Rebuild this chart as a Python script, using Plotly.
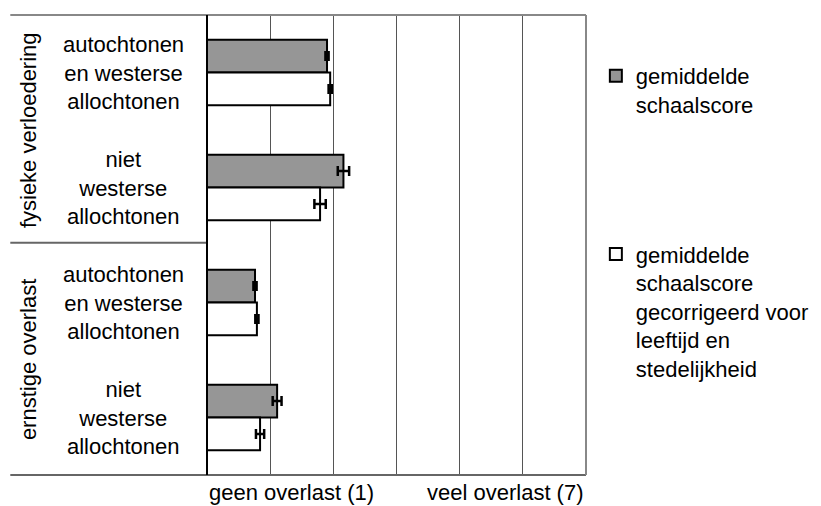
import plotly.graph_objects as go

# data (scale 1 = geen overlast, 7 = veel overlast)
groups = ["autochtonen<br>en westerse<br>allochtonen", "niet<br>westerse<br>allochtonen",
          "autochtonen<br>en westerse<br>allochtonen", "niet<br>westerse<br>allochtonen"]
themes = ["fysieke verloedering", "ernstige overlast"]
score = [2.90, 3.16, 1.76, 2.11]
score_err = [0.025, 0.09, 0.025, 0.07]
score_corr = [2.95, 2.79, 1.79, 1.84]
score_corr_err = [0.025, 0.09, 0.025, 0.065]
legend_names = ["gemiddelde<br>schaalscore",
                "gemiddelde<br>schaalscore<br>gecorrigeerd voor<br>leeftijd en<br>stedelijkheid"]

ypos = list(range(len(groups)))
FONT = "Liberation Sans, Arial, sans-serif"
FS = 22

fig = go.Figure()
fig.add_trace(go.Bar(
    y=ypos, x=score, orientation="h", name=legend_names[0], legendgroup="a",
    marker=dict(color="#969696", line=dict(color="black", width=2)),
    error_x=dict(type="data", array=score_err, color="black", thickness=2.5, width=5),
))
fig.add_trace(go.Bar(
    y=ypos, x=score_corr, orientation="h", name=legend_names[1], legendgroup="b",
    marker=dict(color="white", line=dict(color="black", width=2)),
    error_x=dict(type="data", array=score_corr_err, color="black", thickness=2.5, width=5),
))

# category labels, centred like the original
for y, g in zip(ypos, groups):
    fig.add_annotation(x=-0.219, xref="paper", y=y, yref="y", text=g, showarrow=False,
                       xanchor="center", yanchor="middle", align="center",
                       font=dict(size=FS, color="black"))
for i, t in enumerate(themes):
    fig.add_annotation(x=-0.472, xref="paper", y=2 * i + 0.5, yref="y", text=t,
                       showarrow=False, textangle=-90, xanchor="center", yanchor="middle",
                       font=dict(size=FS, color="black"))

# bottom axis end labels
fig.add_annotation(x=1, xref="x", y=0, yref="paper", yshift=-3, text="geen overlast (1)",
                   showarrow=False, xanchor="left", yanchor="top", font=dict(size=FS, color="black"))
fig.add_annotation(x=7, xref="x", y=0, yref="paper", yshift=-3, text="veel overlast (7)",
                   showarrow=False, xanchor="right", yanchor="top", font=dict(size=FS, color="black"))

# frame and separators
left = -0.519
fig.add_shape(type="line", xref="paper", yref="paper", x0=left, x1=1, y0=1, y1=1,
              line=dict(color="#888", width=2))
fig.add_shape(type="line", xref="paper", yref="paper", x0=left, x1=1, y0=0, y1=0,
              line=dict(color="#666", width=2))
fig.add_shape(type="line", xref="paper", yref="paper", x0=1, x1=1, y0=0, y1=1,
              line=dict(color="#888", width=2))
fig.add_shape(type="line", xref="paper", yref="paper", x0=left, x1=0, y0=0.505, y1=0.505,
              line=dict(color="#666", width=2))
fig.add_shape(type="line", xref="paper", yref="paper", x0=0, x1=0, y0=0, y1=1,
              line=dict(color="black", width=2))

# page body has an 8px margin, so the figure is 8px smaller each way
fig.update_layout(
    width=813, height=498,
    margin=dict(l=199, r=235, t=7, b=31, autoexpand=False),
    paper_bgcolor="white", plot_bgcolor="white",
    font=dict(family=FONT, size=FS, color="black"),
    barmode="group", bargap=0.43, bargroupgap=0,
    showlegend=True,
    legend=dict(x=1.026, y=0.913, xanchor="left", yanchor="top", traceorder="grouped",
                tracegroupgap=118, valign="top", itemwidth=30,
                font=dict(size=FS, color="black"), bgcolor="rgba(0,0,0,0)"),
)
fig.update_xaxes(range=[1, 7], tick0=1, dtick=1, showgrid=True, gridcolor="#555", gridwidth=1,
                 showticklabels=False, zeroline=False, showline=False, ticks="")
fig.update_yaxes(range=[3.5, -0.5], showticklabels=False, showgrid=False, zeroline=False,
                 showline=False, ticks="")

fig.write_html("out.html")
